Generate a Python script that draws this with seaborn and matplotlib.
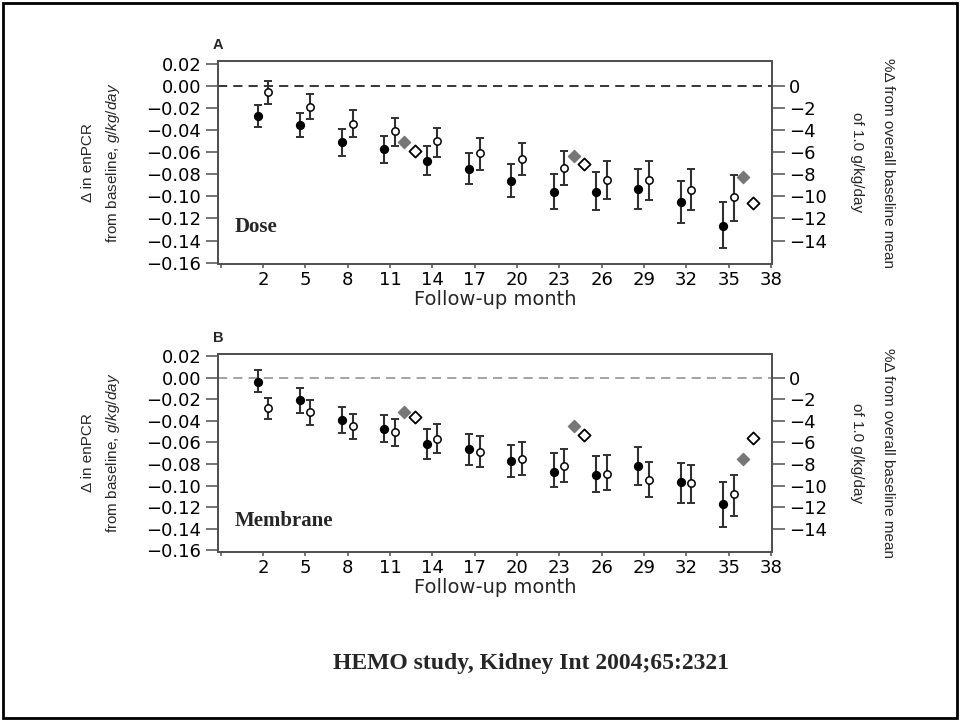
import numpy as np
import pandas as pd
import matplotlib
matplotlib.use("Agg")
import matplotlib.pyplot as plt
import seaborn as sns
from matplotlib import font_manager
from matplotlib.patches import Rectangle

# ---------------- data ----------------
months = [2, 5, 8, 11, 14, 17, 20, 23, 26, 29, 32, 35]
diamond_months = [11, 23, 35]

# Panel A (Dose)
a_filled = [-0.027, -0.035, -0.051, -0.057, -0.068, -0.075, -0.086, -0.096, -0.096, -0.093, -0.105, -0.127]
a_filled_lo = [-0.0375, -0.0465, -0.063, -0.070, -0.081, -0.089, -0.101, -0.111, -0.112, -0.111, -0.124, -0.147]
a_filled_hi = [-0.017, -0.024, -0.039, -0.045, -0.054, -0.061, -0.071, -0.080, -0.078, -0.075, -0.086, -0.105]
a_open = [-0.005, -0.019, -0.034, -0.041, -0.050, -0.061, -0.066, -0.074, -0.085, -0.085, -0.094, -0.101]
a_open_lo = [-0.016, -0.030, -0.046, -0.054, -0.064, -0.076, -0.081, -0.090, -0.102, -0.103, -0.112, -0.122]
a_open_hi = [0.005, -0.007, -0.022, -0.029, -0.038, -0.047, -0.052, -0.059, -0.068, -0.068, -0.075, -0.081]
a_gray_dia = [-0.051, -0.063, -0.0825]
a_open_dia = [-0.0585, -0.071, -0.106]

# Panel B (Membrane)
b_filled = [-0.004, -0.021, -0.039, -0.0475, -0.0615, -0.0665, -0.077, -0.087, -0.090, -0.082, -0.097, -0.117]
b_filled_lo = [-0.0135, -0.0325, -0.051, -0.060, -0.075, -0.081, -0.092, -0.101, -0.106, -0.099, -0.116, -0.138]
b_filled_hi = [0.0067, -0.010, -0.027, -0.035, -0.048, -0.052, -0.062, -0.070, -0.073, -0.064, -0.079, -0.097]
b_open = [-0.0285, -0.032, -0.045, -0.0505, -0.0565, -0.069, -0.075, -0.082, -0.089, -0.095, -0.098, -0.108]
b_open_lo = [-0.0385, -0.0435, -0.057, -0.063, -0.070, -0.083, -0.090, -0.097, -0.1045, -0.111, -0.116, -0.128]
b_open_hi = [-0.0185, -0.021, -0.034, -0.038, -0.043, -0.0545, -0.060, -0.0665, -0.072, -0.078, -0.081, -0.090]
b_gray_dia = [-0.032, -0.045, -0.075]
b_open_dia = [-0.036, -0.053, -0.0555]

left_ticks = [0.02, 0.00, -0.02, -0.04, -0.06, -0.08, -0.10, -0.12, -0.14, -0.16]
left_ticklabels = ["0.02", "0.00", "\u22120.02", "\u22120.04", "\u22120.06", "\u22120.08",
                   "\u22120.10", "\u22120.12", "\u22120.14", "\u22120.16"]
right_ticks = [0, -2, -4, -6, -8, -10, -12, -14]
right_ticklabels = ["0", "\u22122", "\u22124", "\u22126", "\u22128", "\u221210", "\u221212", "\u221214"]
x_ticks = [-1, 2, 5, 8, 11, 14, 17, 20, 23, 26, 29, 32, 35, 38]
x_ticklabels = [""] + [str(m) for m in x_ticks[1:]]

# ---------------- style ----------------
sns.set_theme(style="ticks")


def has_font(name):
    try:
        font_manager.findfont(font_manager.FontProperties(family=name), fallback_to_default=False)
        return True
    except Exception:
        return False


if has_font("Liberation Sans Narrow"):
    LAB_FAM, LAB_SIZE = "Liberation Sans Narrow", 13
else:
    LAB_FAM, LAB_SIZE = "Liberation Sans", 11

plt.rcParams["font.family"] = ["DejaVu Sans"]
plt.rcParams["mathtext.fontset"] = "custom"
plt.rcParams["mathtext.rm"] = LAB_FAM
plt.rcParams["mathtext.it"] = LAB_FAM + ":italic"

TICK_SIZE = 13
SPINE_C = "#505050"

fig = plt.figure(figsize=(9.6, 7.21), dpi=100)
W, H = 960.0, 721.0


def fx(px):
    return px / W


def fy(py):
    return 1 - py / H


OFF_FILLED, OFF_OPEN, OFF_GDIA, OFF_ODIA = -0.4, 0.35, 1.0, 1.75


def draw_panel(rect, ylim, filled, flo, fhi, opn, olo, ohi, gdia, odia, dash_color, letter, word, word_y):
    ax = fig.add_axes(rect)
    ax.set_xlim(-1.2, 38.07)
    ax.set_ylim(*ylim)
    ax.axhline(0, color=dash_color, ls=(0, (6, 4)), lw=1.1, zorder=1)

    mf = np.array(months) + OFF_FILLED
    mo = np.array(months) + OFF_OPEN
    f = np.array(filled); o = np.array(opn)
    ax.errorbar(mf, f, yerr=[f - np.array(flo), np.array(fhi) - f], fmt="none",
                ecolor="#303030", elinewidth=1.5, capsize=3, capthick=1.4, zorder=2)
    ax.errorbar(mo, o, yerr=[o - np.array(olo), np.array(ohi) - o], fmt="none",
                ecolor="#303030", elinewidth=1.5, capsize=3, capthick=1.4, zorder=2)

    df_f = pd.DataFrame({"month": mf, "value": f})
    df_o = pd.DataFrame({"month": mo, "value": o})
    sns.scatterplot(data=df_f, x="month", y="value", ax=ax, color="black", marker="o",
                    s=32, edgecolor="black", linewidth=1, zorder=3, legend=False)
    sns.scatterplot(data=df_o, x="month", y="value", ax=ax, color="white", marker="o",
                    s=28, edgecolor="black", linewidth=1.1, zorder=3, legend=False)
    df_g = pd.DataFrame({"month": np.array(diamond_months) + OFF_GDIA, "value": gdia})
    df_d = pd.DataFrame({"month": np.array(diamond_months) + OFF_ODIA, "value": odia})
    sns.scatterplot(data=df_g, x="month", y="value", ax=ax, color="#777777", marker="D",
                    s=38, edgecolor="#777777", linewidth=1, zorder=3, legend=False)
    sns.scatterplot(data=df_d, x="month", y="value", ax=ax, color="white", marker="D",
                    s=38, edgecolor="black", linewidth=1.3, zorder=3, legend=False)

    ax.set_xticks(x_ticks)
    ax.set_xticklabels(x_ticklabels)
    ax.set_yticks(left_ticks)
    ax.set_yticklabels(left_ticklabels)
    ax.set_xlabel("Follow-up month", fontsize=14, labelpad=1)
    ax.set_ylabel("")
    ax.tick_params(axis="y", direction="out", length=9, width=1.1, color=SPINE_C,
                   labelsize=TICK_SIZE, pad=3, labelcolor="black")
    ax.tick_params(axis="x", direction="out", length=3, width=1.1, color=SPINE_C,
                   labelsize=TICK_SIZE, pad=2, labelcolor="black")
    for s in ax.spines.values():
        s.set_color(SPINE_C)
        s.set_linewidth(1.3)
        s.set_visible(True)

    ax2 = ax.twinx()
    ax2.set_ylim(ylim[0] * 100, ylim[1] * 100)
    ax2.set_yticks(right_ticks)
    ax2.set_yticklabels(right_ticklabels)
    ax2.tick_params(axis="y", direction="out", length=9, width=1.1, color=SPINE_C,
                    labelsize=TICK_SIZE, pad=3, labelcolor="black")
    for s in ax2.spines.values():
        s.set_color(SPINE_C)
        s.set_linewidth(1.3)

    ax.text(0.0, word_y, word, fontsize=15, fontweight="bold", family="Liberation Serif",
            ha="left", va="baseline", zorder=4)

    # panel letter and axis labels (figure coordinates)
    l, b, w, h = rect
    top_px = (1 - (b + h)) * H
    cy = b + h / 2
    fig.text(fx(218), fy(top_px - 16), letter, fontsize=10.5, fontweight="bold",
             family="Liberation Sans", ha="center", va="center")
    fig.text(fx(88), cy, "\u0394 in enPCR", rotation=90, family=LAB_FAM, fontsize=LAB_SIZE,
             ha="center", va="center")
    fig.text(fx(113), cy, "from baseline, $\\mathit{g/kg/day}$", rotation=90, family=LAB_FAM,
             fontsize=LAB_SIZE, ha="center", va="center")
    fig.text(fx(888), cy, "%\u0394 from overall baseline mean", rotation=270, family=LAB_FAM,
             fontsize=LAB_SIZE, ha="center", va="center")
    fig.text(fx(857), cy, "of 1.0 g/kg/day", rotation=270, family=LAB_FAM,
             fontsize=LAB_SIZE, ha="center", va="center")
    return ax


rectA = [fx(218), fy(264), (772 - 218) / W, (264 - 61) / H]
rectB = [fx(218), fy(552), (772 - 218) / W, (552 - 354) / H]

draw_panel(rectA, (-0.1613, 0.0227), a_filled, a_filled_lo, a_filled_hi,
           a_open, a_open_lo, a_open_hi, a_gray_dia, a_open_dia, "black", "A", "Dose", -0.132)
draw_panel(rectB, (-0.1615, 0.0219), b_filled, b_filled_lo, b_filled_hi,
           b_open, b_open_lo, b_open_hi, b_gray_dia, b_open_dia, "#8a8a8a", "B", "Membrane", -0.137)

fig.text(fx(531), fy(664), "HEMO study, Kidney Int 2004;65:2321", family="Liberation Serif",
         fontweight="bold", fontsize=17, ha="center", va="center")

fig.patches.append(Rectangle((fx(3), fy(718)), 954 / W, 715 / H, transform=fig.transFigure,
                             fill=False, lw=2, ec="black", zorder=10))

fig.savefig("out.png", dpi=100)
